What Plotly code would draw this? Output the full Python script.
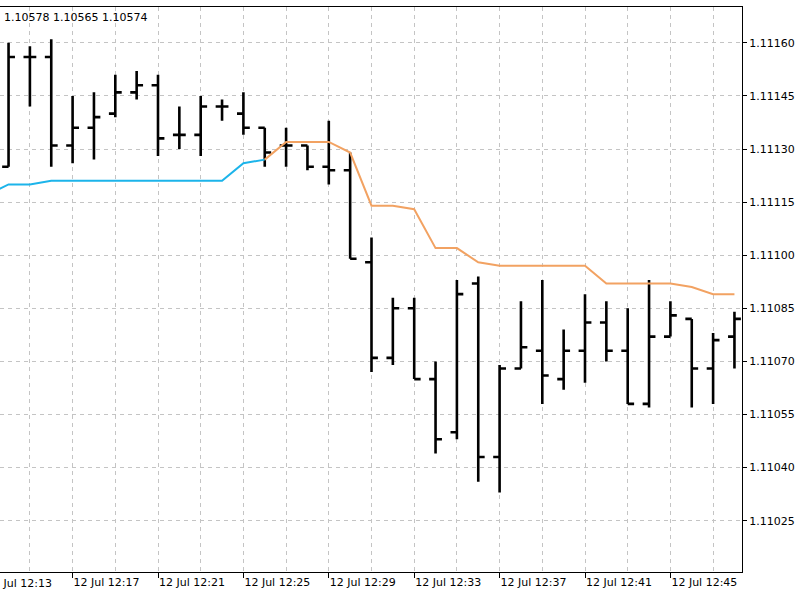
import pandas as pd
import plotly.graph_objects as go

# ---- data ----
bar_times = ["12:14", "12:15", "12:16", "12:17", "12:18", "12:19", "12:20", "12:21", "12:22",
             "12:23", "12:24", "12:25", "12:26", "12:27", "12:28", "12:29", "12:30", "12:31",
             "12:32", "12:33", "12:34", "12:35", "12:36", "12:37", "12:38", "12:39", "12:40",
             "12:41", "12:42", "12:43", "12:44", "12:45", "12:46", "12:47", "12:48"]
opens = [1.11125, 1.11156, 1.11156, 1.11131, 1.11136, 1.11140, 1.11146, 1.11148, 1.11134,
         1.11134, 1.11142, 1.11140, 1.11136, 1.11131, 1.11131, 1.11125, 1.11124, 1.11098,
         1.11071, 1.11085, 1.11065, 1.11050, 1.11092, 1.11043, 1.11068, 1.11073, 1.11065,
         1.11073, 1.11081, 1.11073, 1.11058, 1.11077, 1.11082, 1.11068, 1.11077]
highs = [1.11160, 1.11159, 1.11161, 1.11145, 1.11146, 1.11151, 1.11152, 1.11151, 1.11142,
         1.11145, 1.11144, 1.11146, 1.11136, 1.11136, 1.11131, 1.11138, 1.11129, 1.11105,
         1.11088, 1.11088, 1.11070, 1.11093, 1.11094, 1.11069, 1.11087, 1.11093, 1.11079,
         1.11089, 1.11087, 1.11085, 1.11093, 1.11087, 1.11082, 1.11078, 1.11084]
lows = [1.11125, 1.11142, 1.11125, 1.11126, 1.11127, 1.11139, 1.11144, 1.11128, 1.11130,
        1.11128, 1.11138, 1.11134, 1.11125, 1.11125, 1.11124, 1.11120, 1.11099, 1.11067,
        1.11069, 1.11065, 1.11044, 1.11048, 1.11036, 1.11033, 1.11068, 1.11058, 1.11062,
        1.11064, 1.11070, 1.11058, 1.11057, 1.11077, 1.11057, 1.11058, 1.11068]
closes = [1.11156, 1.11156, 1.11131, 1.11136, 1.11139, 1.11146, 1.11148, 1.11133, 1.11134,
          1.11142, 1.11142, 1.11136, 1.11129, 1.11131, 1.11125, 1.11124, 1.11099, 1.11071,
          1.11085, 1.11065, 1.11048, 1.11089, 1.11043, 1.11068, 1.11074, 1.11066, 1.11073,
          1.11081, 1.11073, 1.11058, 1.11077, 1.11083, 1.11068, 1.11076, 1.11082]

blue_times = ["12:13", "12:14", "12:15", "12:16", "12:17", "12:18", "12:19", "12:20",
              "12:21", "12:22", "12:23", "12:24", "12:25", "12:26"]
blue_vals = [1.11117, 1.11120, 1.11120, 1.11121, 1.11121, 1.11121, 1.11121, 1.11121,
             1.11121, 1.11121, 1.11121, 1.11121, 1.11126, 1.11127]

orange_times = ["12:26", "12:27", "12:28", "12:29", "12:30", "12:31", "12:32", "12:33",
                "12:34", "12:35", "12:36", "12:37", "12:38", "12:39", "12:40", "12:41",
                "12:42", "12:43", "12:44", "12:45", "12:46", "12:47", "12:48"]
orange_vals = [1.11127, 1.11132, 1.11132, 1.11132, 1.11129, 1.11114, 1.11114, 1.11113,
               1.11102, 1.11102, 1.11098, 1.11097, 1.11097, 1.11097, 1.11097, 1.11097,
               1.11092, 1.11092, 1.11092, 1.11092, 1.11091, 1.11089, 1.11089]

price_ticks = [1.11025, 1.11040, 1.11055, 1.11070, 1.11085, 1.11100, 1.11115, 1.11130,
               1.11145, 1.11160]
header_text = "1.10578 1.10565 1.10574"
first_time_label = "12 Jul 12:13"

DAY = "2023-07-12 "


def ts(lst):
    return pd.to_datetime([DAY + t for t in lst])


bx = ts(bar_times)

FONT = dict(family="DejaVu Sans", size=11, color="black")
GRID = "#c4c4c4"

fig = go.Figure()
fig.add_trace(go.Scatter(x=ts(blue_times), y=blue_vals, mode="lines",
                         line=dict(color="#1cb4ea", width=2), hoverinfo="skip"))
fig.add_trace(go.Scatter(x=ts(orange_times), y=orange_vals, mode="lines",
                         line=dict(color="#f2a262", width=2), hoverinfo="skip"))
fig.add_trace(go.Ohlc(x=bx, open=opens, high=highs, low=lows, close=closes,
                      tickwidth=0.3,
                      increasing=dict(line=dict(color="black", width=2.6)),
                      decreasing=dict(line=dict(color="black", width=2.6))))

px_per_min = 21.35
x_1217 = 72.6
plot_w = 742
plot_h = 565
t17 = pd.Timestamp(DAY + "12:17")
x_left = t17 - pd.Timedelta(minutes=x_1217 / px_per_min)
x_right = x_left + pd.Timedelta(minutes=plot_w / px_per_min)

fig.update_layout(
    width=800, height=600,
    margin=dict(l=0, r=58, t=7, b=28),
    paper_bgcolor="white", plot_bgcolor="white",
    showlegend=False,
    font=FONT,
    xaxis=dict(
        type="date",
        range=[x_left, x_right],
        rangeslider=dict(visible=False),
        tick0=DAY + "12:17", dtick=4 * 60 * 1000,
        tickformat="%d %b %H:%M",
        ticks="outside", ticklen=5, tickcolor="black", tickwidth=1,
        ticklabelposition="outside right",
        tickfont=FONT,
        showgrid=True, gridcolor=GRID, griddash="4px,4px", gridwidth=1,
        minor=dict(tick0=DAY + "12:15", dtick=2 * 60 * 1000, showgrid=True,
                   gridcolor=GRID, griddash="4px,4px", gridwidth=1),
        showline=True, linecolor="black", linewidth=1, mirror=True,
        zeroline=False,
    ),
    yaxis=dict(
        side="right",
        range=[1.11010508, 1.11170113],
        tickvals=price_ticks,
        tickformat=".5f",
        ticks="outside", ticklen=4, tickcolor="black", tickwidth=1,
        tickfont=FONT,
        showgrid=True, gridcolor=GRID, griddash="4px,4px", gridwidth=1,
        showline=True, linecolor="black", linewidth=1, mirror=False,
        zeroline=False,
    ),
    annotations=[
        dict(text=header_text, xref="paper", yref="paper", x=0.003,
             y=(plot_h - 11) / plot_h,
             xanchor="left", yanchor="middle", showarrow=False, font=FONT),
        dict(text=first_time_label, xref="paper", yref="paper",
             x=-16.5 / plot_w, y=-11 / plot_h,
             xanchor="left", yanchor="middle", showarrow=False, font=FONT),
    ],
)

fig.write_html("out.html")
